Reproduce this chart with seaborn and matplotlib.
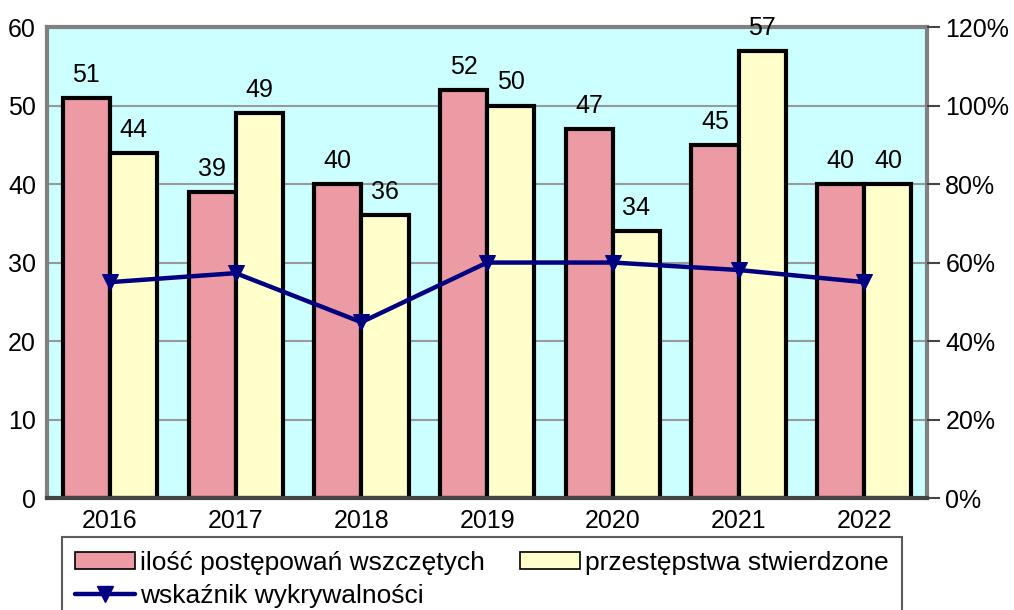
import pandas as pd
import numpy as np
import seaborn as sns
import matplotlib.pyplot as plt
from matplotlib.ticker import PercentFormatter, MultipleLocator
from matplotlib.lines import Line2D

years = ['2016', '2017', '2018', '2019', '2020', '2021', '2022']
wszczete = [51, 39, 40, 52, 47, 45, 40]
stwierdzone = [44, 49, 36, 50, 34, 57, 40]
wskaznik = [55.0, 57.3, 44.8, 60.0, 60.0, 58.1, 55.0]

s1 = 'ilość postępowań wszczętych'
s2 = 'przestępstwa stwierdzone'
s3 = 'wskaźnik wykrywalności'

df = pd.DataFrame({
    'rok': years * 2,
    'wartosc': wszczete + stwierdzone,
    'seria': [s1] * len(years) + [s2] * len(years),
})

sns.set_style('white')
plt.rcParams['font.family'] = ['Liberation Sans', 'DejaVu Sans']
plt.rcParams['font.size'] = 18
plt.rcParams['text.color'] = 'black'
plt.rcParams['xtick.color'] = 'black'
plt.rcParams['ytick.color'] = 'black'

fig = plt.figure(figsize=(10.14, 6.10), dpi=100)
ax = fig.add_axes([0.0464, 0.1836, 0.868, 0.772])
ax.set_facecolor('#ccffff')

sns.barplot(data=df, x='rok', y='wartosc', hue='seria', order=years,
            palette={s1: '#ec9aa4', s2: '#ffffcc'}, width=0.75,
            edgecolor='black', linewidth=3, saturation=1, ax=ax, legend=False)

for cont in ax.containers:
    ax.bar_label(cont, padding=8, fontsize=18, color='black')

ax.set_ylim(0, 60)
ax.set_xlim(-0.5, len(years) - 0.5)
ax.yaxis.set_major_locator(MultipleLocator(10))
ax.grid(axis='y', color='#999999', linewidth=1.5)
ax.set_axisbelow(True)
ax.set_xlabel('')
ax.set_ylabel('')
ax.tick_params(axis='both', length=0, labelsize=18, pad=8, labelcolor='black')
for side in ['left', 'top', 'right']:
    ax.spines[side].set_color('#808080')
    ax.spines[side].set_linewidth(3)
ax.spines['bottom'].set_color('#444444')
ax.spines['bottom'].set_linewidth(3)

ax2 = ax.twinx()
ax2.set_position(ax.get_position())
sns.lineplot(x=np.arange(len(years)), y=wskaznik, color='#000080', linewidth=3.2,
             marker='v', markersize=11, markeredgecolor='#000080', ax=ax2)
ax2.set_ylim(0, 120)
ax2.yaxis.set_major_locator(MultipleLocator(20))
ax2.yaxis.set_major_formatter(PercentFormatter(decimals=0))
ax2.tick_params(axis='y', length=9, width=1.5, color='#444444', labelsize=18,
                pad=4, labelcolor='black')
for sp in ax2.spines.values():
    sp.set_visible(False)
ax2.grid(False)

# row-major order: s1, s2 / s3
handles = [
    plt.Rectangle((0, 0), 1, 1, facecolor='#ec9aa4', edgecolor='black', linewidth=1.2),
    Line2D([], [], color='#000080', linewidth=3.2, marker='v', markersize=11),
    plt.Rectangle((0, 0), 1, 1, facecolor='#ffffcc', edgecolor='black', linewidth=1.2),
]
labels = [s1, s3, s2]
leg = fig.legend(handles, labels, ncol=2, loc='upper left',
                 bbox_to_anchor=(0.061, 0.119), frameon=True, fancybox=False,
                 edgecolor='#333333', fontsize=19, handlelength=2.27, handleheight=0.6,
                 handletextpad=0.2, columnspacing=1.33, borderpad=0.5,
                 labelspacing=0.35, borderaxespad=0)
leg.get_frame().set_linewidth(1.5)

fig.savefig('out.png', dpi=100)
